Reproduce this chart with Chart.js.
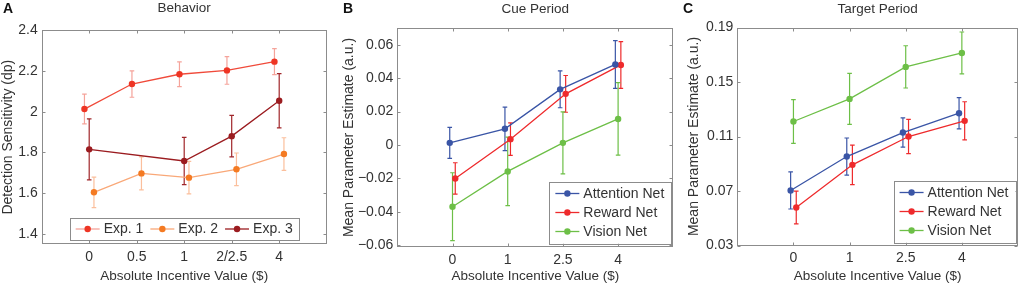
<!DOCTYPE html>
<html><head><meta charset="utf-8">
<script src="https://cdn.jsdelivr.net/npm/chart.js@4.4.1/dist/chart.umd.min.js"></script>
<style>
html,body{margin:0;padding:0;background:#fff;width:1022px;height:288px;overflow:hidden}
canvas{position:absolute;top:0}
</style></head><body>
<canvas id="cA" width="340" height="288" style="left:0px"></canvas>
<canvas id="cB" width="340" height="288" style="left:340px"></canvas>
<canvas id="cC" width="342" height="288" style="left:680px"></canvas>
<script>
// ---------- data ----------
const categoriesA = ['0', '0.5', '1', '2/2.5', '4'];
const exp1 = [2.013, 2.136, 2.184, 2.203, 2.246];
const exp1Err = [0.073, 0.065, 0.061, 0.068, 0.064];
const exp2 = [1.604, 1.697, 1.676, 1.717, 1.792];
const exp2Err = [0.075, 0.081, 0.080, 0.080, 0.080];
const exp3 = [1.815, null, 1.758, 1.880, 2.054];
const exp3Err = [0.150, null, 0.116, 0.102, 0.133];
const yTicksA = [1.4, 1.6, 1.8, 2, 2.2, 2.4];
const yTickLabelsA = ['1.4', '1.6', '1.8', '2', '2.2', '2.4'];

const categoriesBC = ['0', '1', '2.5', '4'];
const cueAttention = [0.0013, 0.0097, 0.0333, 0.0482];
const cueAttentionErr = [0.0093, 0.0130, 0.0110, 0.0143];
const cueReward = [-0.0200, 0.0035, 0.0306, 0.0479];
const cueRewardErr = [0.0094, 0.0097, 0.0110, 0.0140];
const cueVision = [-0.0369, -0.0158, 0.0013, 0.0156];
const cueVisionErr = [0.0203, 0.0205, 0.0185, 0.0217];
const yTicksB = [-0.06, -0.04, -0.02, 0, 0.02, 0.04, 0.06];
const yTickLabelsB = ['\u22120.06', '\u22120.04', '\u22120.02', '0', '0.02', '0.04', '0.06'];

const targetAttention = [0.0704, 0.0953, 0.1129, 0.1271];
const targetAttentionErr = [0.0136, 0.0136, 0.0107, 0.0115];
const targetReward = [0.0579, 0.0892, 0.1100, 0.1215];
const targetRewardErr = [0.0120, 0.0145, 0.0125, 0.0140];
const targetVision = [0.1210, 0.1376, 0.1611, 0.1713];
const targetVisionErr = [0.0160, 0.0187, 0.0155, 0.0154];
const yTicksC = [0.03, 0.07, 0.11, 0.15, 0.19];
const yTickLabelsC = ['0.03', '0.07', '0.11', '0.15', '0.19'];

// ---------- styles ----------
const FONT = '"Liberation Sans", Arial, Helvetica, sans-serif';
const TXT = '#333333';
const AXC = '#8c8c8c';
const BLUE = '#3a55a6', RED = '#ee2a2c', GREEN = '#6dbf47';

function ds(label, values, errors, offset, st) {
  return {
    label: label,
    errors: errors,
    errColor: st.err || st.dot,
    legendLine: st.legendLine || st.line || st.dot,
    data: values.map((v, i) => ({ x: i + 1 + offset, y: v })),
    borderColor: st.line || st.dot,
    backgroundColor: st.dot,
    pointBackgroundColor: st.dot,
    pointBorderColor: st.dot,
    pointRadius: 3.2,
    pointBorderWidth: 0,
    borderWidth: 1.3,
    spanGaps: true,
    tension: 0
  };
}

// ---------- plugins ----------
const errorBarPlugin = {
  id: 'errbars',
  beforeDatasetsDraw(chart) {
    const ctx = chart.ctx, ys = chart.scales.y;
    chart.data.datasets.forEach((d, di) => {
      const meta = chart.getDatasetMeta(di);
      ctx.save();
      ctx.strokeStyle = d.errColor;
      ctx.lineWidth = 1.2;
      meta.data.forEach((pt, i) => {
        const v = d.data[i].y, e = d.errors[i];
        if (v == null || e == null) return;
        const x = pt.x;
        const y1 = ys.getPixelForValue(v + e), y2 = ys.getPixelForValue(v - e);
        ctx.beginPath();
        ctx.moveTo(x, y1); ctx.lineTo(x, y2);
        ctx.moveTo(x - 2.3, y1); ctx.lineTo(x + 2.3, y1);
        ctx.moveTo(x - 2.3, y2); ctx.lineTo(x + 2.3, y2);
        ctx.stroke();
      });
      ctx.restore();
    });
  }
};

const framePlugin = {
  id: 'frame',
  afterDatasetsDraw(chart, args, o) {
    const ctx = chart.ctx, a = chart.chartArea;
    const xs = chart.scales.x, ys = chart.scales.y;
    const l = Math.round(a.left) + 0.5, r = Math.round(a.right) - 0.5;
    const t = Math.round(a.top) + 0.5, b = Math.round(a.bottom) - 0.5;
    ctx.save();
    ctx.strokeStyle = AXC; ctx.lineWidth = 1;
    ctx.strokeRect(l, t, r - l, b - t);
    ctx.beginPath();
    xs.ticks.forEach(tk => {
      const x = Math.round(xs.getPixelForValue(tk.value)) + 0.5;
      ctx.moveTo(x, b); ctx.lineTo(x, b - 3);
      ctx.moveTo(x, t); ctx.lineTo(x, t + 3);
    });
    ys.ticks.forEach(tk => {
      const y = Math.round(ys.getPixelForValue(tk.value)) + 0.5;
      ctx.moveTo(l, y); ctx.lineTo(l + 3, y);
      ctx.moveTo(r, y); ctx.lineTo(r - 3, y);
    });
    ctx.stroke();
    ctx.fillStyle = '#111';
    ctx.font = 'bold 14px ' + FONT;
    ctx.textBaseline = 'middle';
    ctx.textAlign = 'left';
    ctx.fillText(o.letter, 3, 9);
    ctx.restore();
  }
};

const legendPlugin = {
  id: 'boxLegend',
  afterDraw(chart, args, o) {
    const ctx = chart.ctx, a = chart.chartArea;
    const items = chart.data.datasets.map(d => ({ label: d.label, line: d.legendLine, dot: d.backgroundColor }));
    ctx.save();
    ctx.font = '14px ' + FONT;
    ctx.textBaseline = 'middle';
    ctx.textAlign = 'left';
    const lineLen = 24, gap = 4, pad = 6;
    const widths = items.map(it => ctx.measureText(it.label).width);
    let bw, bh, bx, by;
    if (o.row) {
      bh = 22;
      bw = pad * 2 + widths.reduce((s, w) => s + lineLen + gap + w, 0) + o.itemGap * (items.length - 1);
      bx = (a.left + a.right) / 2 - bw / 2;
      by = a.bottom - o.bottom - bh;
    } else {
      bh = o.rowH * items.length + 2 * o.padV;
      bw = pad + lineLen + gap + Math.max(...widths) + o.padR;
      bx = a.right - o.right - bw;
      by = a.bottom - o.bottom - bh;
    }
    ctx.fillStyle = '#fff';
    ctx.fillRect(bx, by, bw, bh);
    ctx.strokeStyle = AXC; ctx.lineWidth = 1;
    ctx.strokeRect(Math.round(bx) + 0.5, Math.round(by) + 0.5, Math.round(bw), Math.round(bh));
    let x = bx + pad;
    items.forEach((it, i) => {
      let cy, lx;
      if (o.row) { cy = by + bh / 2; lx = x; }
      else { cy = by + o.padV + o.rowH * (i + 0.5); lx = bx + pad; }
      ctx.strokeStyle = it.line; ctx.lineWidth = 1.3;
      ctx.beginPath(); ctx.moveTo(lx, cy); ctx.lineTo(lx + lineLen, cy); ctx.stroke();
      ctx.fillStyle = it.dot;
      ctx.beginPath(); ctx.arc(lx + lineLen / 2, cy, 3.2, 0, Math.PI * 2); ctx.fill();
      ctx.fillStyle = TXT;
      ctx.fillText(it.label, lx + lineLen + gap, cy + 0.5);
      if (o.row) x += lineLen + gap + widths[i] + o.itemGap;
    });
    ctx.restore();
  }
};

function buildChart(id, cfg) {
  return new Chart(document.getElementById(id), {
    type: 'line',
    data: { datasets: cfg.datasets },
    options: {
      responsive: false, animation: false, devicePixelRatio: 1,
      layout: { padding: { left: 0, right: cfg.padRight, top: 0, bottom: 0 } },
      plugins: {
        legend: { display: false },
        tooltip: { enabled: false },
        title: {
          display: true, text: cfg.title, fullSize: false, color: TXT,
          font: { family: FONT, size: 13.5, weight: 'normal', lineHeight: 1.2 },
          padding: { top: cfg.titleTop, bottom: cfg.plotTop - 16.2 - cfg.titleTop }
        },
        frame: { letter: cfg.letter },
        boxLegend: cfg.legend
      },
      scales: {
        x: {
          type: 'linear', min: 0, max: cfg.categories.length + 1,
          afterBuildTicks: s => { s.ticks = cfg.categories.map((c, i) => ({ value: i + 1 })); },
          afterFit: s => { s.height = cfg.xHeight; },
          ticks: {
            callback: v => { const c = cfg.categories[Math.round(v) - 1]; return c === undefined ? '' : c; },
            color: TXT, font: { family: FONT, size: 14 }, padding: 4.5, maxRotation: 0, autoSkip: false
          },
          grid: { display: false, drawTicks: false },
          border: { display: false },
          title: {
            display: true, text: 'Absolute Incentive Value ($)', color: TXT,
            font: { family: FONT, size: 13.5 }, padding: { top: 0, bottom: 3.4 }
          }
        },
        y: {
          type: 'linear', min: cfg.yMin, max: cfg.yMax,
          afterBuildTicks: s => { s.ticks = cfg.yTicks.map(v => ({ value: v })); },
          afterFit: s => { s.width = cfg.yWidth; },
          ticks: {
            callback: (v, i) => cfg.yTickLabels[i],
            color: TXT, font: { family: FONT, size: 14 }, padding: 4, autoSkip: false
          },
          grid: { display: false, drawTicks: false },
          border: { display: false },
          title: {
            display: true, text: cfg.yTitle, color: TXT,
            font: { family: FONT, size: 14 }, padding: { top: cfg.yTitlePad, bottom: 0 }
          }
        }
      }
    },
    plugins: [errorBarPlugin, framePlugin, legendPlugin]
  });
}

// ---------- panel A ----------
buildChart('cA', {
  letter: 'A', title: 'Behavior', titleTop: 0.1, plotTop: 30.3,
  categories: categoriesA, yMin: 1.35, yMax: 2.4, yTicks: yTicksA, yTickLabels: yTickLabelsA,
  yTitle: 'Detection Sensitivity (dp)', yTitlePad: 0,
  yWidth: 41.7, xHeight: 44, padRight: 13.3,
  legend: { row: true, itemGap: 7, bottom: 4 },
  datasets: [
    ds('Exp. 1', exp1, exp1Err, -0.1, { dot: '#ee3524', line: '#f04a3a', err: '#f5a39a', legendLine: '#f5a39a' }),
    ds('Exp. 2', exp2, exp2Err, 0.1, { dot: '#f47a22', line: '#f9a878', err: '#fbbf9c' }),
    ds('Exp. 3', exp3, exp3Err, 0, { dot: '#9b1c20', line: '#9b1c20', err: '#a0262a' })
  ]
});

// ---------- panel B ----------
buildChart('cB', {
  letter: 'B', title: 'Cue Period', titleTop: 1.1, plotTop: 28,
  categories: categoriesBC, yMin: -0.061, yMax: 0.07, yTicks: yTicksB, yTickLabels: yTickLabelsB,
  yTitle: 'Mean Parameter Estimate (a.u.)', yTitlePad: 0.6,
  yWidth: 57.3, xHeight: 41, padRight: 6.7,
  legend: { row: false, rowH: 19, padV: 2.5, padR: 7, right: 2, bottom: 3.5 },
  datasets: [
    ds('Attention Net', cueAttention, cueAttentionErr, -0.05, { dot: BLUE }),
    ds('Reward Net', cueReward, cueRewardErr, 0.05, { dot: RED }),
    ds('Vision Net', cueVision, cueVisionErr, 0, { dot: GREEN })
  ]
});

// ---------- panel C ----------
buildChart('cC', {
  letter: 'C', title: 'Target Period', titleTop: 1.1, plotTop: 27.5,
  categories: categoriesBC, yMin: 0.03, yMax: 0.19, yTicks: yTicksC, yTickLabels: yTickLabelsC,
  yTitle: 'Mean Parameter Estimate (a.u.)', yTitlePad: 5.6,
  yWidth: 57.3, xHeight: 42.5, padRight: 1.5,
  legend: { row: false, rowH: 19, padV: 2.5, padR: 7, right: 2.5, bottom: 3 },
  datasets: [
    ds('Attention Net', targetAttention, targetAttentionErr, -0.05, { dot: BLUE }),
    ds('Reward Net', targetReward, targetRewardErr, 0.05, { dot: RED }),
    ds('Vision Net', targetVision, targetVisionErr, 0, { dot: GREEN })
  ]
});
</script>
</body></html>
